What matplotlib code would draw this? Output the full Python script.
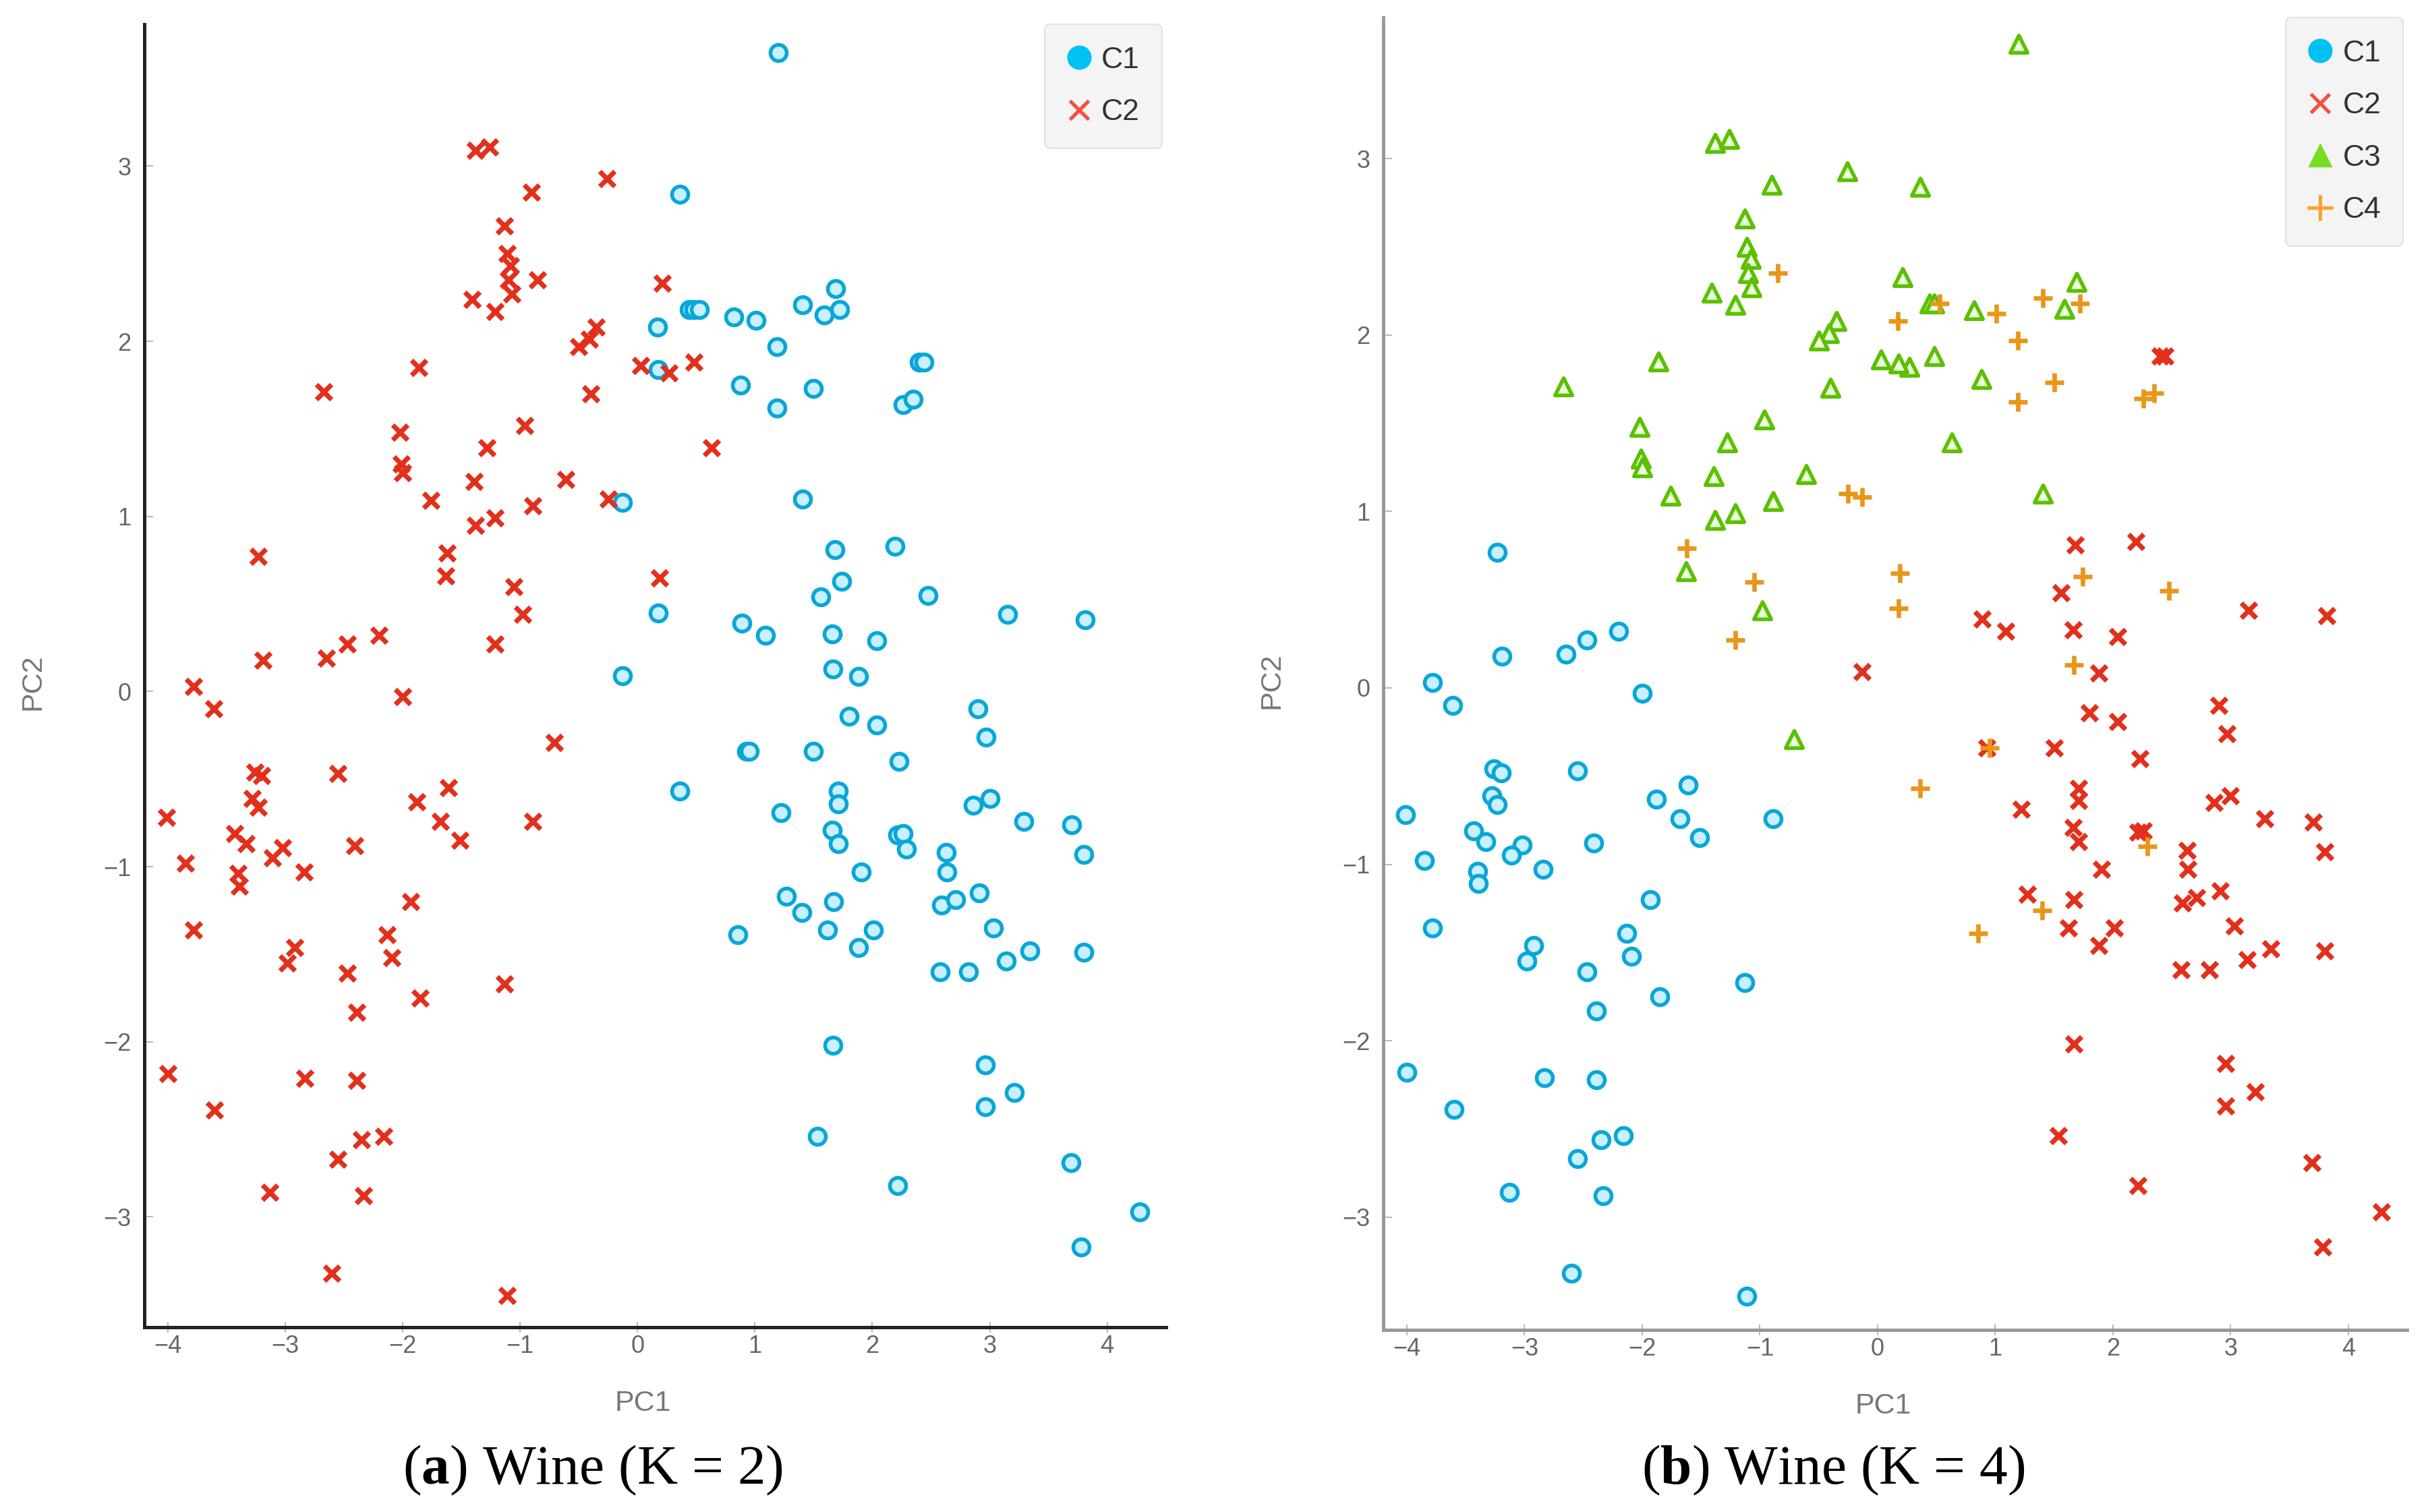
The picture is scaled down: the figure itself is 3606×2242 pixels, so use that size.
"""PCA scatter of the Wine data clustered with K = 2 and K = 4."""

import matplotlib.pyplot as plt
import numpy as np
from matplotlib.lines import Line2D

plt.rcParams["font.family"] = ["Liberation Sans Narrow", "Liberation Sans", "DejaVu Sans"]
plt.rcParams["mathtext.fontset"] = "custom"
plt.rcParams["mathtext.rm"] = "Liberation Serif"
plt.rcParams["mathtext.bf"] = "Liberation Serif:bold"

# first principal component
pc1 = [
    -1.38, -1.26, -0.26, -0.90, -1.13, -1.11, -1.08, -1.10, -1.07, -0.85,
    -1.41, -1.21, 0.21, -0.35, -0.41, -0.50, 0.03, -1.86, -2.67, -0.40,
    -2.02, -0.96, -1.28, -2.01, -2.00, -1.39, -0.61, -1.76, -0.25, -0.89,
    -1.21, -1.38, -1.62, -1.63, -3.23, -1.05, -0.98, -2.20, -2.47, -2.65,
    -3.19, -1.21, 0.19, -3.78, 0.48, 0.27, 0.63,
    -3.61, -2.00, -0.71, -3.26, -3.20, -2.55, -1.61, -1.88, -3.28, -3.23,
    -4.01, -1.68, -0.89, -1.51, -3.43, -3.33, -3.02, -3.11, -2.41, -3.85,
    -2.84, -3.40, -3.39, -1.93, -3.78, -2.13, -2.92, -2.09, -2.98, -2.47,
    -1.13, -1.85, -2.39, -4.00, -2.83, -2.39, -3.60, -2.35, -2.16, -2.55,
    -3.13, -2.33, -2.60, -1.11,
    0.17, 0.175, -0.13, 0.18, -0.13, 1.20, 0.36, 1.69, 1.405, 1.59,
    1.72, 0.44, 0.48, 0.53, 0.82, 1.01, 1.19, 0.88, 1.50, 1.19,
    2.40, 2.44, 2.26, 2.35, 1.405, 1.68, 2.195, 1.74, 1.56, 2.475,
    3.15, 3.815, 0.89, 1.09, 1.66, 2.04, 1.665, 1.88,
    2.90, 1.80, 2.04, 2.97, 0.93, 0.95, 1.50, 2.23, 0.36, 1.71,
    1.71, 1.22, 2.86, 3.00, 3.29, 3.70, 1.66, 1.71, 2.215, 2.26,
    2.29, 2.63, 3.80, 1.905, 2.635, 1.27, 1.67, 2.91, 2.59, 2.71,
    1.40, 0.855, 1.62, 2.01, 3.03, 1.88, 3.34, 3.80, 3.14, 2.58,
    2.82, 1.665, 2.96, 3.21, 2.96, 1.535, 3.69, 2.215, 4.28, 3.78,
]

# second principal component
pc2 = [
    3.09, 3.11, 2.93, 2.85, 2.66, 2.50, 2.43, 2.35, 2.27, 2.35,
    2.24, 2.17, 2.33, 2.08, 2.01, 1.97, 1.86, 1.85, 1.71, 1.70,
    1.48, 1.52, 1.39, 1.30, 1.25, 1.20, 1.21, 1.09, 1.10, 1.06,
    0.99, 0.95, 0.79, 0.66, 0.77, 0.60, 0.44, 0.32, 0.27, 0.19,
    0.18, 0.27, 0.65, 0.03, 1.88, 1.82, 1.39,
    -0.10, -0.03, -0.29, -0.46, -0.48, -0.47, -0.55, -0.63, -0.61, -0.66,
    -0.72, -0.74, -0.74, -0.85, -0.81, -0.87, -0.89, -0.95, -0.88, -0.98,
    -1.03, -1.04, -1.11, -1.20, -1.36, -1.39, -1.46, -1.52, -1.55, -1.61,
    -1.67, -1.75, -1.83, -2.18, -2.21, -2.22, -2.39, -2.56, -2.54, -2.67,
    -2.86, -2.88, -3.32, -3.45,
    2.08, 1.84, 1.08, 0.45, 0.09, 3.65, 2.84, 2.30, 2.21, 2.15,
    2.18, 2.18, 2.18, 2.18, 2.14, 2.12, 1.97, 1.75, 1.73, 1.62,
    1.88, 1.88, 1.64, 1.67, 1.10, 0.81, 0.83, 0.63, 0.54, 0.55,
    0.44, 0.41, 0.39, 0.32, 0.33, 0.29, 0.13, 0.085,
    -0.10, -0.14, -0.19, -0.26, -0.34, -0.34, -0.34, -0.40, -0.57, -0.57,
    -0.64, -0.69, -0.65, -0.61, -0.74, -0.76, -0.79, -0.87, -0.82, -0.81,
    -0.90, -0.92, -0.93, -1.03, -1.03, -1.17, -1.20, -1.15, -1.22, -1.19,
    -1.26, -1.39, -1.36, -1.36, -1.35, -1.46, -1.48, -1.49, -1.54, -1.60,
    -1.60, -2.02, -2.13, -2.29, -2.37, -2.54, -2.69, -2.82, -2.97, -3.17,
]

# cluster labels, K = 2
labels_k2 = [2] * 91 + [1] * 88

# cluster labels, K = 4
labels_k4 = [
    3, 3, 3, 3, 3, 3, 3, 3, 3, 4,
    3, 3, 3, 3, 3, 3, 3, 3, 3, 3,
    3, 3, 3, 3, 3, 3, 3, 3, 4, 3,
    3, 3, 4, 3, 1, 4, 3, 1, 1, 1,
    1, 4, 4, 1, 3, 3, 3,
    1, 1, 3, 1, 1, 1, 1, 1, 1, 1,
    1, 1, 1, 1, 1, 1, 1, 1, 1, 1,
    1, 1, 1, 1, 1, 1, 1, 1, 1, 1,
    1, 1, 1, 1, 1, 1, 1, 1, 1, 1,
    1, 1, 1, 1,
    4, 3, 4, 4, 2, 3, 3, 3, 4, 3,
    4, 3, 3, 4, 3, 4, 4, 3, 4, 4,
    2, 2, 4, 4, 3, 2, 2, 4, 2, 4,
    2, 2, 2, 2, 2, 2, 4, 2,
    2, 2, 2, 2, 2, 4, 2, 2, 4, 2,
    2, 2, 2, 2, 2, 2, 2, 2, 2, 2,
    4, 2, 2, 2, 2, 2, 2, 2, 2, 2,
    4, 4, 2, 2, 2, 2, 2, 2, 2, 2,
    2, 2, 2, 2, 2, 2, 2, 2, 2, 2,
]

ticks = [-4, -3, -2, -1, 0, 1, 2, 3, 4]
yticks = [-3, -2, -1, 0, 1, 2, 3]

# marker style for each cluster
styles = {
    1: dict(marker="o", s=300, facecolors="#c8f0ff", edgecolors="#0aa6d8", linewidths=4.0),
    2: dict(marker="x", s=260, c="#e2301c", linewidths=5.2),
    3: dict(marker="^", s=340, facecolors="#eaffdc", edgecolors="#5cc000", linewidths=4.0),
    4: dict(marker="+", s=400, c="#e8961a", linewidths=4.8),
}
handles = {
    1: Line2D([], [], ls="none", marker="o", ms=25, mfc="#00c2f2", mec="#00c2f2"),
    2: Line2D([], [], ls="none", marker="x", ms=20, mec="#f55040", mew=3.8),
    3: Line2D([], [], ls="none", marker="^", ms=25, mfc="#77dd22", mec="#77dd22"),
    4: Line2D([], [], ls="none", marker="+", ms=27, mec="#f7a531", mew=3.8),
}


def draw_panel(ax, labels, spine_color):
    """Scatter one clustering into ax."""
    x = np.array(pc1)
    y = np.array(pc2)
    lab = np.array(labels)
    ks = sorted(set(labels))
    for k in ks:
        sel = lab == k
        ax.scatter(x[sel], y[sel], zorder=3, **styles[k])

    ax.set_xlim(-4.2, 4.5)
    ax.set_ylim(-3.63, 3.81)
    ax.set_xticks(ticks)
    ax.set_yticks(yticks)
    for side in ["top", "right"]:
        ax.spines[side].set_visible(False)
    for side in ["left", "bottom"]:
        ax.spines[side].set_color(spine_color)
        ax.spines[side].set_linewidth(3.6)
    ax.tick_params(axis="x", direction="inout", length=12, width=1.2,
                   color="#aaaaaa", labelsize=26, labelcolor="#666666", pad=2)
    ax.tick_params(axis="y", direction="in", length=9, width=1.2,
                   color="#aaaaaa", labelsize=26, labelcolor="#666666", pad=14)

    ax.set_xlabel("PC1", fontsize=31, color="#777777")
    ax.set_ylabel("PC2", fontsize=31, color="#777777")
    ax.xaxis.set_label_coords(0.488, -0.048)
    ax.yaxis.set_label_coords(-0.096, 0.495)

    leg = ax.legend(
        [handles[k] for k in ks],
        ["C%d" % k for k in ks],
        loc="upper right",
        bbox_to_anchor=(0.996, 1.0),
        fontsize=32,
        labelcolor="#333333",
        handlelength=0.8,
        handletextpad=0.35,
        borderpad=0.74,
        labelspacing=0.82,
        borderaxespad=0.0,
        fancybox=True,
        framealpha=1.0,
    )
    leg.get_frame().set_facecolor("#f4f4f4")
    leg.get_frame().set_edgecolor("#e2e2e2")
    leg.get_frame().set_linewidth(1.5)


def main():
    fig = plt.figure(figsize=(36.06, 22.42), dpi=100)

    ax1 = fig.add_axes([0.0593, 0.1222, 0.4201, 0.8617])
    draw_panel(ax1, labels_k2, "#222222")

    ax2 = fig.add_axes([0.5688, 0.1204, 0.4210, 0.8680])
    draw_panel(ax2, labels_k4, "#999999")
    ax2.set_ylim(-3.64, 3.80)

    fig.text(0.2438, 0.0187, r"($\mathbf{a}$) Wine (K = 2)", ha="center",
             va="baseline", family="Liberation Serif", fontsize=60)
    fig.text(0.7537, 0.0187, r"($\mathbf{b}$) Wine (K = 4)", ha="center",
             va="baseline", family="Liberation Serif", fontsize=60)

    fig.savefig("out.png", dpi=100, facecolor="white")


if __name__ == "__main__":
    main()
